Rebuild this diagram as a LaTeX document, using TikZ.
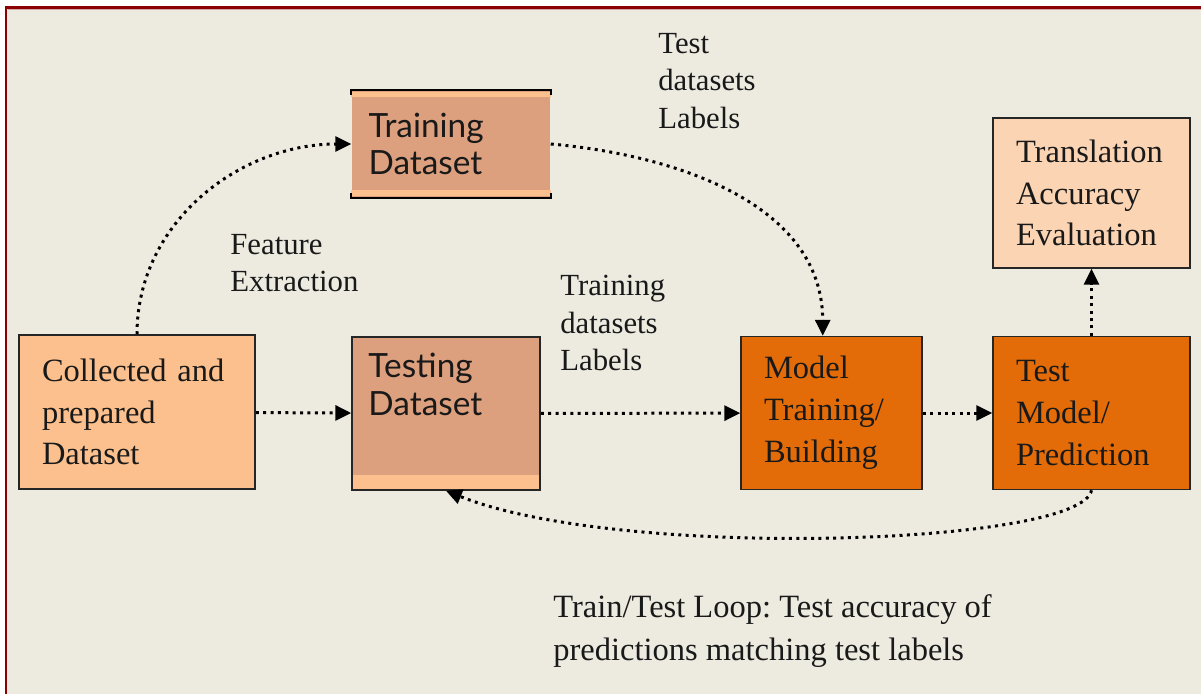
\documentclass[tikz,border=0pt]{standalone}
\usepackage{fontspec}
\setmainfont{Liberation Serif}
\newfontfamily\gillfont{Lato}
\usetikzlibrary{arrows.meta,positioning}
\definecolor{pagebg}{HTML}{EDEBE0}
\definecolor{framered}{HTML}{8B0000}
\definecolor{paleorange}{HTML}{FBC08D}
\definecolor{dataorange}{HTML}{DDA07E}
\definecolor{deeporange}{HTML}{E36C09}
\definecolor{peach}{HTML}{FBD4B4}
\frenchspacing

\begin{document}
\begin{tikzpicture}[x=0.02cm,y=-0.02cm,
  box/.style={draw=black!85, line width=0.9pt, align=left, inner xsep=0.46cm, inner ysep=0pt,
    font=\fontsize{18.5}{23.8}\selectfont, text=black!90},
  flow/.style={line width=1.7pt, dash pattern=on 1.7pt off 2.5pt, -{Triangle[length=9pt,width=8.5pt]}},
  note/.style={align=left, inner sep=0pt, font=\fontsize{17.5}{21.5}\selectfont, text=black!90}]
\useasboundingbox (0,0) rectangle (1201,694);

% Frame
\fill[white] (0,0) rectangle (1201,694);
\fill[pagebg] (7,9) rectangle (1201,694);
\fill[framered] (5,6) rectangle (1201,9);
\fill[framered] (5,6) rectangle (7,694);
\fill[framered!35] (8,9) rectangle (1201,10);

% Boxes
\node[box, fill=paleorange, text width=3.8cm, minimum height=3.08cm] (collected) at (137,412) {Collected and\\prepared\\Dataset};
\node[box, draw=none, fill=dataorange, font=\gillfont\fontsize{19}{21.5}\selectfont, text width=3.3cm, inner xsep=0.33cm, minimum height=2.14cm] (training) at (451,144) {Training\\Dataset};
\node[box, fill=dataorange, minimum width=3.76cm, minimum height=3.06cm] (testing) at (446,413.5) {};
\node[box, fill=deeporange, text width=2.7cm, minimum height=3.06cm] (model) at (831.5,413) {Model\\Training/\\Building};
\node[box, fill=deeporange, text width=3.02cm, minimum height=3.06cm] (testmodel) at (1091.5,413) {Test\\Model/\\Prediction};
\node[box, fill=peach, text width=3.02cm, minimum height=3cm] (translation) at (1091.5,193) {Translation\\Accuracy\\Evaluation};

% Box trims
\fill[paleorange] ([yshift=-1.2pt]training.north west) rectangle ([yshift=-4pt]training.north east);
\fill[paleorange] ([yshift=1.2pt]training.south west) rectangle ([yshift=4.5pt]training.south east);
\draw[line width=0.9pt] ([yshift=-3pt]training.north west) -- (training.north west) -- (training.north east) -- ++(0pt,-3pt);
\draw[line width=0.9pt] ([yshift=3pt]training.south west) -- (training.south west) -- (training.south east) -- ++(0pt,3pt);
\fill[paleorange] ([shift={(1pt,1pt)}]testing.south west) rectangle ([shift={(-1pt,9pt)}]testing.south east);
\node[align=left, anchor=north west, inner sep=0pt, font=\gillfont\fontsize{19}{21.5}\selectfont, text=black!90] (testingtext) at ([shift={(9.6pt,-9.5pt)}]testing.north west) {Testing\\Dataset};

% Labels
\node[note, anchor=west] (testlabels) at (658,81) {Test\\datasets\\Labels};
\node[note, anchor=west] (featurelabel) at (230,263) {Feature\\Extraction};
\node[note, anchor=west] (trainlabels) at (560,323) {Training\\datasets\\Labels};
\node[note, anchor=west, font=\fontsize{18.5}{24}\selectfont] (looplabel) at (553,631) {Train/Test Loop: Test accuracy of\\predictions matching test labels};

% Arrows
\draw[flow] (collected.north) to[out=90,in=180] (training.west);
\draw[flow] (training.east) to[out=-5,in=90] ([xshift=-5pt]model.north);
\draw[flow] (collected) -- (testing);
\draw[flow] (testing) -- (model);
\draw[flow] (model) -- (testmodel);
\draw[flow] (testmodel) -- (translation);
\draw[flow] (testmodel.south) .. controls +(-10,55) and +(175,70) .. (testing.south);
\end{tikzpicture}
\end{document}
